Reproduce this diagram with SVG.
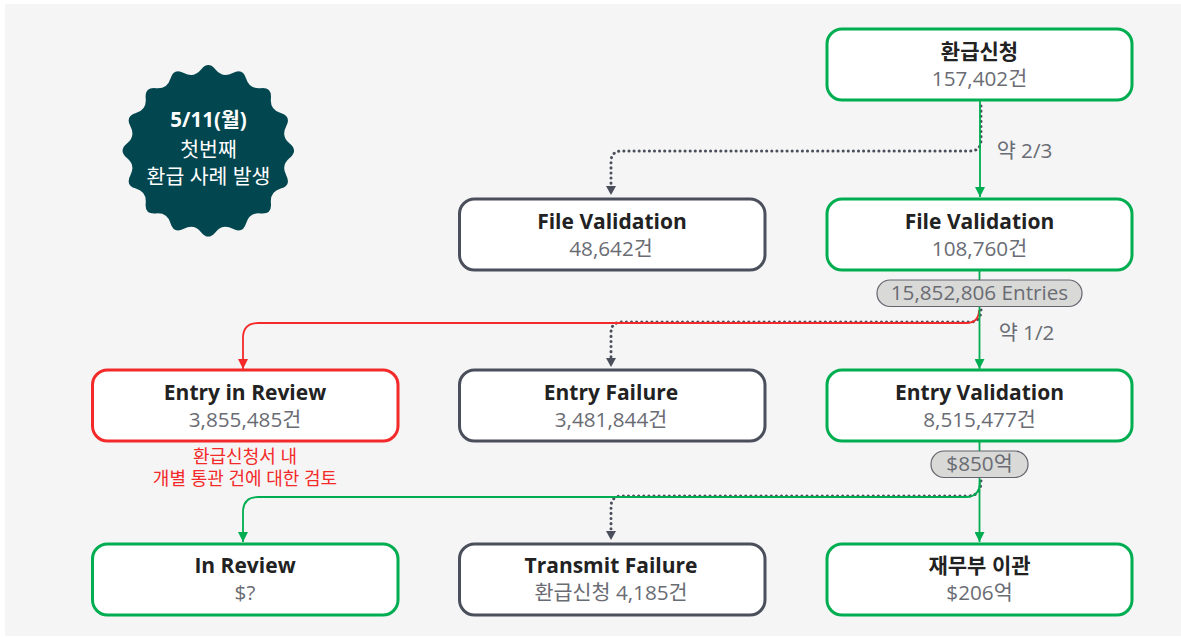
<svg xmlns="http://www.w3.org/2000/svg" width="1181" height="637" viewBox="0 0 1181 637">
<style>
text{font-family:"Open Sans","Noto Sans CJK KR",sans-serif;text-anchor:middle}
.box{fill:#fff;stroke-width:3}
.g{stroke:#00ad50}.d{stroke:#4b4f5c}.r{stroke:#f42a2a}
.t{font-size:21px;font-weight:700;fill:#222}
.s{font-size:20.700px;fill:#6a6c74}
.pill{fill:#d9d9d7;stroke:#63656e;stroke-width:1.2}
.con{fill:none;stroke-width:1.8}
.dot{fill:none;stroke-width:3;stroke-linecap:round;stroke-dasharray:.1 5}
.w{fill:#fff;font-size:20.500px}
.rt{fill:#f42a2a;font-size:18px}
</style>
<defs>
<marker id="ag" markerUnits="userSpaceOnUse" markerWidth="11" markerHeight="10" refX="10" refY="5" orient="auto"><path d="M0 0L10 5L0 10Z" fill="#00ad50"/></marker>
<marker id="ar" markerUnits="userSpaceOnUse" markerWidth="11" markerHeight="10" refX="10" refY="5" orient="auto"><path d="M0 0L10 5L0 10Z" fill="#f42a2a"/></marker>
</defs>
<rect x="5" y="4" width="1176" height="632" fill="#f5f5f5"/>
<g id="burst"><path transform="translate(208.3 150.8) scale(1.013)" fill="#02464f" d="M7.12,-80.3Q14.24,-71.6 24.15,-76.9Q34.06,-82.2 37.31,-71.45Q40.56,-60.7 51.73,-61.8Q62.9,-62.9 61.8,-51.73Q60.7,-40.56 71.45,-37.31Q82.2,-34.06 76.9,-24.15Q71.6,-14.24 80.3,-7.12Q89,0 80.3,7.12Q71.6,14.24 76.9,24.15Q82.2,34.06 71.45,37.31Q60.7,40.56 61.8,51.73Q62.9,62.9 51.73,61.8Q40.56,60.7 37.31,71.45Q34.06,82.2 24.15,76.9Q14.24,71.6 7.12,80.3Q0,89 -7.12,80.3Q-14.24,71.6 -24.15,76.9Q-34.06,82.2 -37.31,71.45Q-40.56,60.7 -51.73,61.8Q-62.9,62.9 -61.8,51.73Q-60.7,40.56 -71.45,37.31Q-82.2,34.06 -76.9,24.15Q-71.6,14.24 -80.3,7.12Q-89,0 -80.3,-7.12Q-71.6,-14.24 -76.9,-24.15Q-82.2,-34.06 -71.45,-37.31Q-60.7,-40.56 -61.8,-51.73Q-62.9,-62.9 -51.73,-61.8Q-40.56,-60.7 -37.31,-71.45Q-34.06,-82.2 -24.15,-76.9Q-14.24,-71.6 -7.12,-80.3Q0,-89 7.12,-80.3Z"/>
<text x="208.500" y="127" class="w" font-weight="700">5/11(월)</text><text x="208.500" y="157" class="w">첫번째</text><text x="208.500" y="184" class="w">환급 사례 발생</text></g>
<g id="connectors">
<path class="dot d" d="M981 106V140Q981 151 970 151H622Q611 151 611 162V186"/>
<path class="con g" d="M980 101V197" marker-end="url(#ag)"/>
<path class="dot d" d="M981 310Q981 322 970 322H622Q611 322 611 333V358"/>
<path class="con r" d="M979 310Q979 323 966 323H258Q243 323 243 338V369" marker-end="url(#ar)"/>
<path class="con g" d="M979.500 270V369" marker-end="url(#ag)"/>
<path class="dot d" d="M981 481Q981 496 968 496H622Q611 496 611 507V531"/>
<path class="con g" d="M980 481Q980 497 966 497H258Q243 497 243 512V542" marker-end="url(#ag)"/>
<path class="con g" d="M979.500 441V542" marker-end="url(#ag)"/>
<path d="M606 186H616L611 195Z" fill="#4b4f5c"/><path d="M606 358H616L611 367Z" fill="#4b4f5c"/><path d="M606 531H616L611 540Z" fill="#4b4f5c"/>
</g>
<g id="n1"><rect class="box g" x="827" y="29" width="305" height="71" rx="15"/><text x="979.500" y="59" class="t">환급신청</text><text x="979.500" y="86" class="s">157,402건</text></g>
<g id="n2"><rect class="box d" x="459.500" y="199" width="305.500" height="71" rx="15"/><text x="612" y="229" class="t">File Validation</text><text x="611" y="256" class="s">48,642건</text></g>
<g id="n3"><rect class="box g" x="827" y="199" width="305" height="71" rx="15"/><text x="979.500" y="229" class="t">File Validation</text><text x="979.500" y="256" class="s">108,760건</text></g>
<g id="n4"><rect class="box r" x="92.500" y="370" width="305.500" height="71" rx="15"/><text x="245" y="400" class="t">Entry in Review</text><text x="245" y="427" class="s">3,855,485건</text></g>
<g id="n5"><rect class="box d" x="459.500" y="370" width="305.500" height="71" rx="15"/><text x="611" y="400" class="t">Entry Failure</text><text x="611" y="427" class="s">3,481,844건</text></g>
<g id="n6"><rect class="box g" x="827" y="370" width="305" height="71" rx="15"/><text x="979.500" y="400" class="t">Entry Validation</text><text x="979.500" y="427" class="s">8,515,477건</text></g>
<g id="n7"><rect class="box g" x="92.500" y="544" width="305.500" height="71" rx="15"/><text x="245" y="573" class="t">In Review</text><text x="245" y="600" class="s">$?</text></g>
<g id="n8"><rect class="box d" x="459.500" y="544" width="305.500" height="71" rx="15"/><text x="611" y="573" class="t">Transmit Failure</text><text x="611" y="600" class="s">환급신청 4,185건</text></g>
<g id="n9"><rect class="box g" x="827" y="544" width="305" height="71" rx="15"/><text x="979.500" y="573" class="t">재무부 이관</text><text x="979.500" y="600" class="s">$206억</text></g>
<g id="labels">
<text x="1024.500" y="158" class="s">약 2/3</text><text x="1026.500" y="340" class="s">약 1/2</text>
<rect class="pill" x="877" y="280" width="205" height="26.500" rx="13"/><text x="979.500" y="300" class="s">15,852,806 Entries</text>
<rect class="pill" x="931" y="451" width="97" height="26.500" rx="13"/><text x="979.500" y="471" class="s">$850억</text>
<text x="245" y="463" class="rt">환급신청서 내</text><text x="245" y="485" class="rt">개별 통관 건에 대한 검토</text>
</g>
</svg>
